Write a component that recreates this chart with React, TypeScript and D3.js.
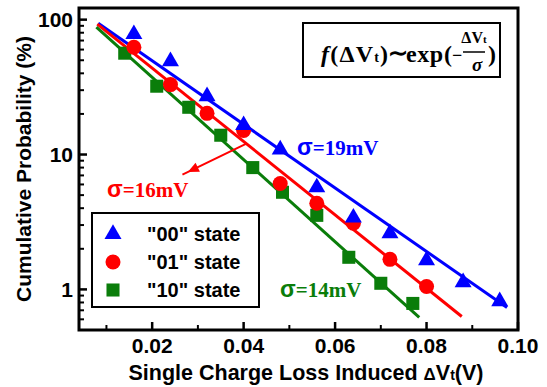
import * as d3 from 'd3';

// measured data (Cumulative probability vs single charge loss)
const blueX = [0.016, 0.024, 0.032, 0.040, 0.048, 0.056, 0.064, 0.072, 0.080, 0.088, 0.096];
const blueY = [78, 49, 27, 16.5, 10.9, 5.7, 3.4, 2.6, 1.64, 1.13, 0.815];
const redX = [0.016, 0.024, 0.032, 0.040, 0.048, 0.056, 0.064, 0.072, 0.080];
const redY = [62.5, 33, 20.2, 15.1, 6.1, 4.35, 3.09, 1.67, 1.05];
const greenX = [0.014, 0.021, 0.028, 0.035, 0.042, 0.0485, 0.056, 0.063, 0.070, 0.077];
const greenY = [56.4, 32.1, 22.4, 13.9, 8.0, 5.25, 3.54, 1.73, 1.11, 0.787];

// exponential fits (end points)
const blueFitX = [0.0082, 0.0976];
const blueFitY = [94, 0.735];
const redFitX = [0.008, 0.0877];
const redFitY = [92.6, 0.63];
const greenFitX = [0.0078, 0.0784];
const greenFitY = [88, 0.62];

const xTicks = [0.02, 0.04, 0.06, 0.08, 0.10];
const xTickLabels = ['0.02', '0.04', '0.06', '0.08', '0.10'];
const xMinorTicks = [0.01, 0.03, 0.05, 0.07, 0.09];
const yTicks = [1, 10, 100];
const yTickLabels = ['1', '10', '100'];

const BLUE = '#0000ff';
const RED = '#ff0000';
const GREEN = '#0a7d0a';
const SANS = '"Liberation Sans", Arial, sans-serif';
const SERIF = '"Liberation Serif", "Times New Roman", serif';

const W = 547, H = 387;
const L = 79, R = 518, T = 8, B = 330;

export default function App() {
  const x = d3.scaleLinear().domain([0.004, 0.1]).range([L, R]);
  const y = d3.scaleLog().domain([0.5, 122]).range([B, T]);

  const line = d3.line<[number, number]>().x(d => x(d[0])).y(d => y(d[1]));
  const tri = d3.symbol(d3.symbolTriangle, 125)();
  const sq = d3.symbol(d3.symbolSquare, 170)();

  const fits = [
    { xs: blueFitX, ys: blueFitY, c: BLUE },
    { xs: redFitX, ys: redFitY, c: RED },
    { xs: greenFitX, ys: greenFitY, c: GREEN },
  ];

  const yMinor = y.ticks().filter(v => !yTicks.includes(v) && v > 0.5);

  // red arrow annotation
  const arrowFrom: [number, number] = [0.0405, 12];
  const arrowTo: [number, number] = [0.0278, 7.43];
  const ax1 = x(arrowFrom[0]), ay1 = y(arrowFrom[1]);
  const ax2 = x(arrowTo[0]), ay2 = y(arrowTo[1]);
  const ang = Math.atan2(ay2 - ay1, ax2 - ax1);
  const ah = 11, aw = 5;
  const head = [
    [ax2, ay2],
    [ax2 - ah * Math.cos(ang) + aw * Math.sin(ang), ay2 - ah * Math.sin(ang) - aw * Math.cos(ang)],
    [ax2 - ah * Math.cos(ang) - aw * Math.sin(ang), ay2 - ah * Math.sin(ang) + aw * Math.cos(ang)],
  ].map(p => p.join(',')).join(' ');

  return (
    <div style={{ position: 'fixed', left: 0, top: 0 }}>
      <svg width={W} height={H} style={{ display: 'block', background: '#fff' }}>
        {/* fit lines */}
        {fits.map((f, i) => (
          <path key={i} d={line(f.xs.map((v, j) => [v, f.ys[j]]) as [number, number][]) || ''}
            stroke={f.c} strokeWidth={3} fill="none" />
        ))}

        {/* markers */}
        {greenX.map((v, i) => (
          <path key={'g' + i} d={sq} transform={`translate(${x(v)},${y(greenY[i])})`} fill={GREEN} />
        ))}
        {redX.map((v, i) => (
          <circle key={'r' + i} cx={x(v)} cy={y(redY[i])} r={7.5} fill={RED} />
        ))}
        {blueX.map((v, i) => (
          <path key={'b' + i} d={tri} transform={`translate(${x(v)},${y(blueY[i])})`} fill={BLUE} />
        ))}

        {/* red arrow */}
        <line x1={ax1} y1={ay1} x2={ax2 + 6 * Math.cos(ang)} y2={ay2 + 6 * Math.sin(ang)} stroke={RED} strokeWidth={2} />
        <polygon points={head} fill={RED} />

        {/* frame */}
        <rect x={L} y={T} width={R - L} height={B - T} fill="none" stroke="#000" strokeWidth={3} />

        {/* y ticks */}
        {yTicks.map((v, i) => (
          <g key={'yt' + i}>
            <line x1={L} x2={L + 8} y1={y(v)} y2={y(v)} stroke="#000" strokeWidth={2.5} />
            <text x={L - 6} y={y(v) + 7.5} textAnchor="end" fontFamily={SANS} fontWeight="bold" fontSize={21}>{yTickLabels[i]}</text>
          </g>
        ))}
        {yMinor.map((v, i) => (
          <line key={'ym' + i} x1={L} x2={L + 5} y1={y(v)} y2={y(v)} stroke="#000" strokeWidth={2} />
        ))}

        {/* x ticks */}
        {xTicks.map((v, i) => (
          <g key={'xt' + i}>
            <line x1={x(v)} x2={x(v)} y1={B} y2={B - 8} stroke="#000" strokeWidth={2.5} />
            <text x={x(v)} y={353} textAnchor="middle" fontFamily={SANS} fontWeight="bold" fontSize={21}>{xTickLabels[i]}</text>
          </g>
        ))}
        {xMinorTicks.map((v, i) => (
          <line key={'xm' + i} x1={x(v)} x2={x(v)} y1={B} y2={B - 5} stroke="#000" strokeWidth={2} />
        ))}

        {/* axis titles */}
        <text x={306} y={380} textAnchor="middle" fontFamily={SANS} fontWeight="bold" fontSize={21.5}>
          Single Charge Loss Induced <tspan fontSize={17}>Δ</tspan>V<tspan fontSize={14}>t</tspan>(V)
        </text>
        <text transform={`translate(31,${(T + B) / 2}) rotate(-90)`} textAnchor="middle" fontFamily={SANS} fontWeight="bold" fontSize={21}>
          Cumulative Probability (%)
        </text>

        {/* formula box */}
        <rect x={303} y={23} width={197} height={54} fill="#fff" stroke="#000" strokeWidth={2} />
        <text x={321} y={62} fontFamily={SERIF} fontWeight="bold" fontSize={24} letterSpacing={1.2}>
          <tspan fontStyle="italic">f</tspan>(ΔV<tspan fontSize={14}>t</tspan>)
        </text>
        <text x={388} y={61} fontFamily={SERIF} fontWeight="bold" fontSize={24}>∼</text>
        <text x={406} y={62} fontFamily={SERIF} fontWeight="bold" fontSize={24} letterSpacing={0.6}>exp</text>
        <text x={444} y={62} fontFamily={SERIF} fontWeight="bold" fontSize={24}>
          (<tspan fontSize={18} dy={-1}>−</tspan>
        </text>
        <text x={474} y={43} textAnchor="middle" fontFamily={SERIF} fontWeight="bold" fontSize={16}>
          ΔV<tspan fontSize={11}>t</tspan>
        </text>
        <line x1={463} x2={485} y1={52} y2={52} stroke="#000" strokeWidth={1.5} />
        <text x={477} y={71} textAnchor="middle" fontFamily={SERIF} fontStyle="italic" fontWeight="bold" fontSize={19}>σ</text>
        <text x={488} y={62} fontFamily={SERIF} fontWeight="bold" fontSize={24}>)</text>

        {/* sigma labels */}
        <text x={297} y={155} fontFamily={SERIF} fontWeight="bold" fontSize={21} fill={BLUE}>
          <tspan fontFamily={SANS} fontSize={23}>σ</tspan>=19mV
        </text>
        <text x={107} y={197} fontFamily={SERIF} fontWeight="bold" fontSize={21} fill={RED}>
          <tspan fontFamily={SANS} fontSize={23}>σ</tspan>=16mV
        </text>
        <text x={280} y={297} fontFamily={SERIF} fontWeight="bold" fontSize={21} fill={GREEN}>
          <tspan fontFamily={SANS} fontSize={23}>σ</tspan>=14mV
        </text>

        {/* legend */}
        <rect x={92} y={213} width={167} height={94} fill="#fff" stroke="#000" strokeWidth={2} />
        <path d={tri} transform="translate(113,234)" fill={BLUE} />
        <text x={147} y={241} fontFamily={SANS} fontWeight="bold" fontSize={20}>"00" state</text>
        <circle cx={113} cy={262} r={7.5} fill={RED} />
        <text x={147} y={269} fontFamily={SANS} fontWeight="bold" fontSize={20}>"01" state</text>
        <path d={sq} transform="translate(113,290)" fill={GREEN} />
        <text x={147} y={297} fontFamily={SANS} fontWeight="bold" fontSize={20}>"10" state</text>
      </svg>
    </div>
  );
}
